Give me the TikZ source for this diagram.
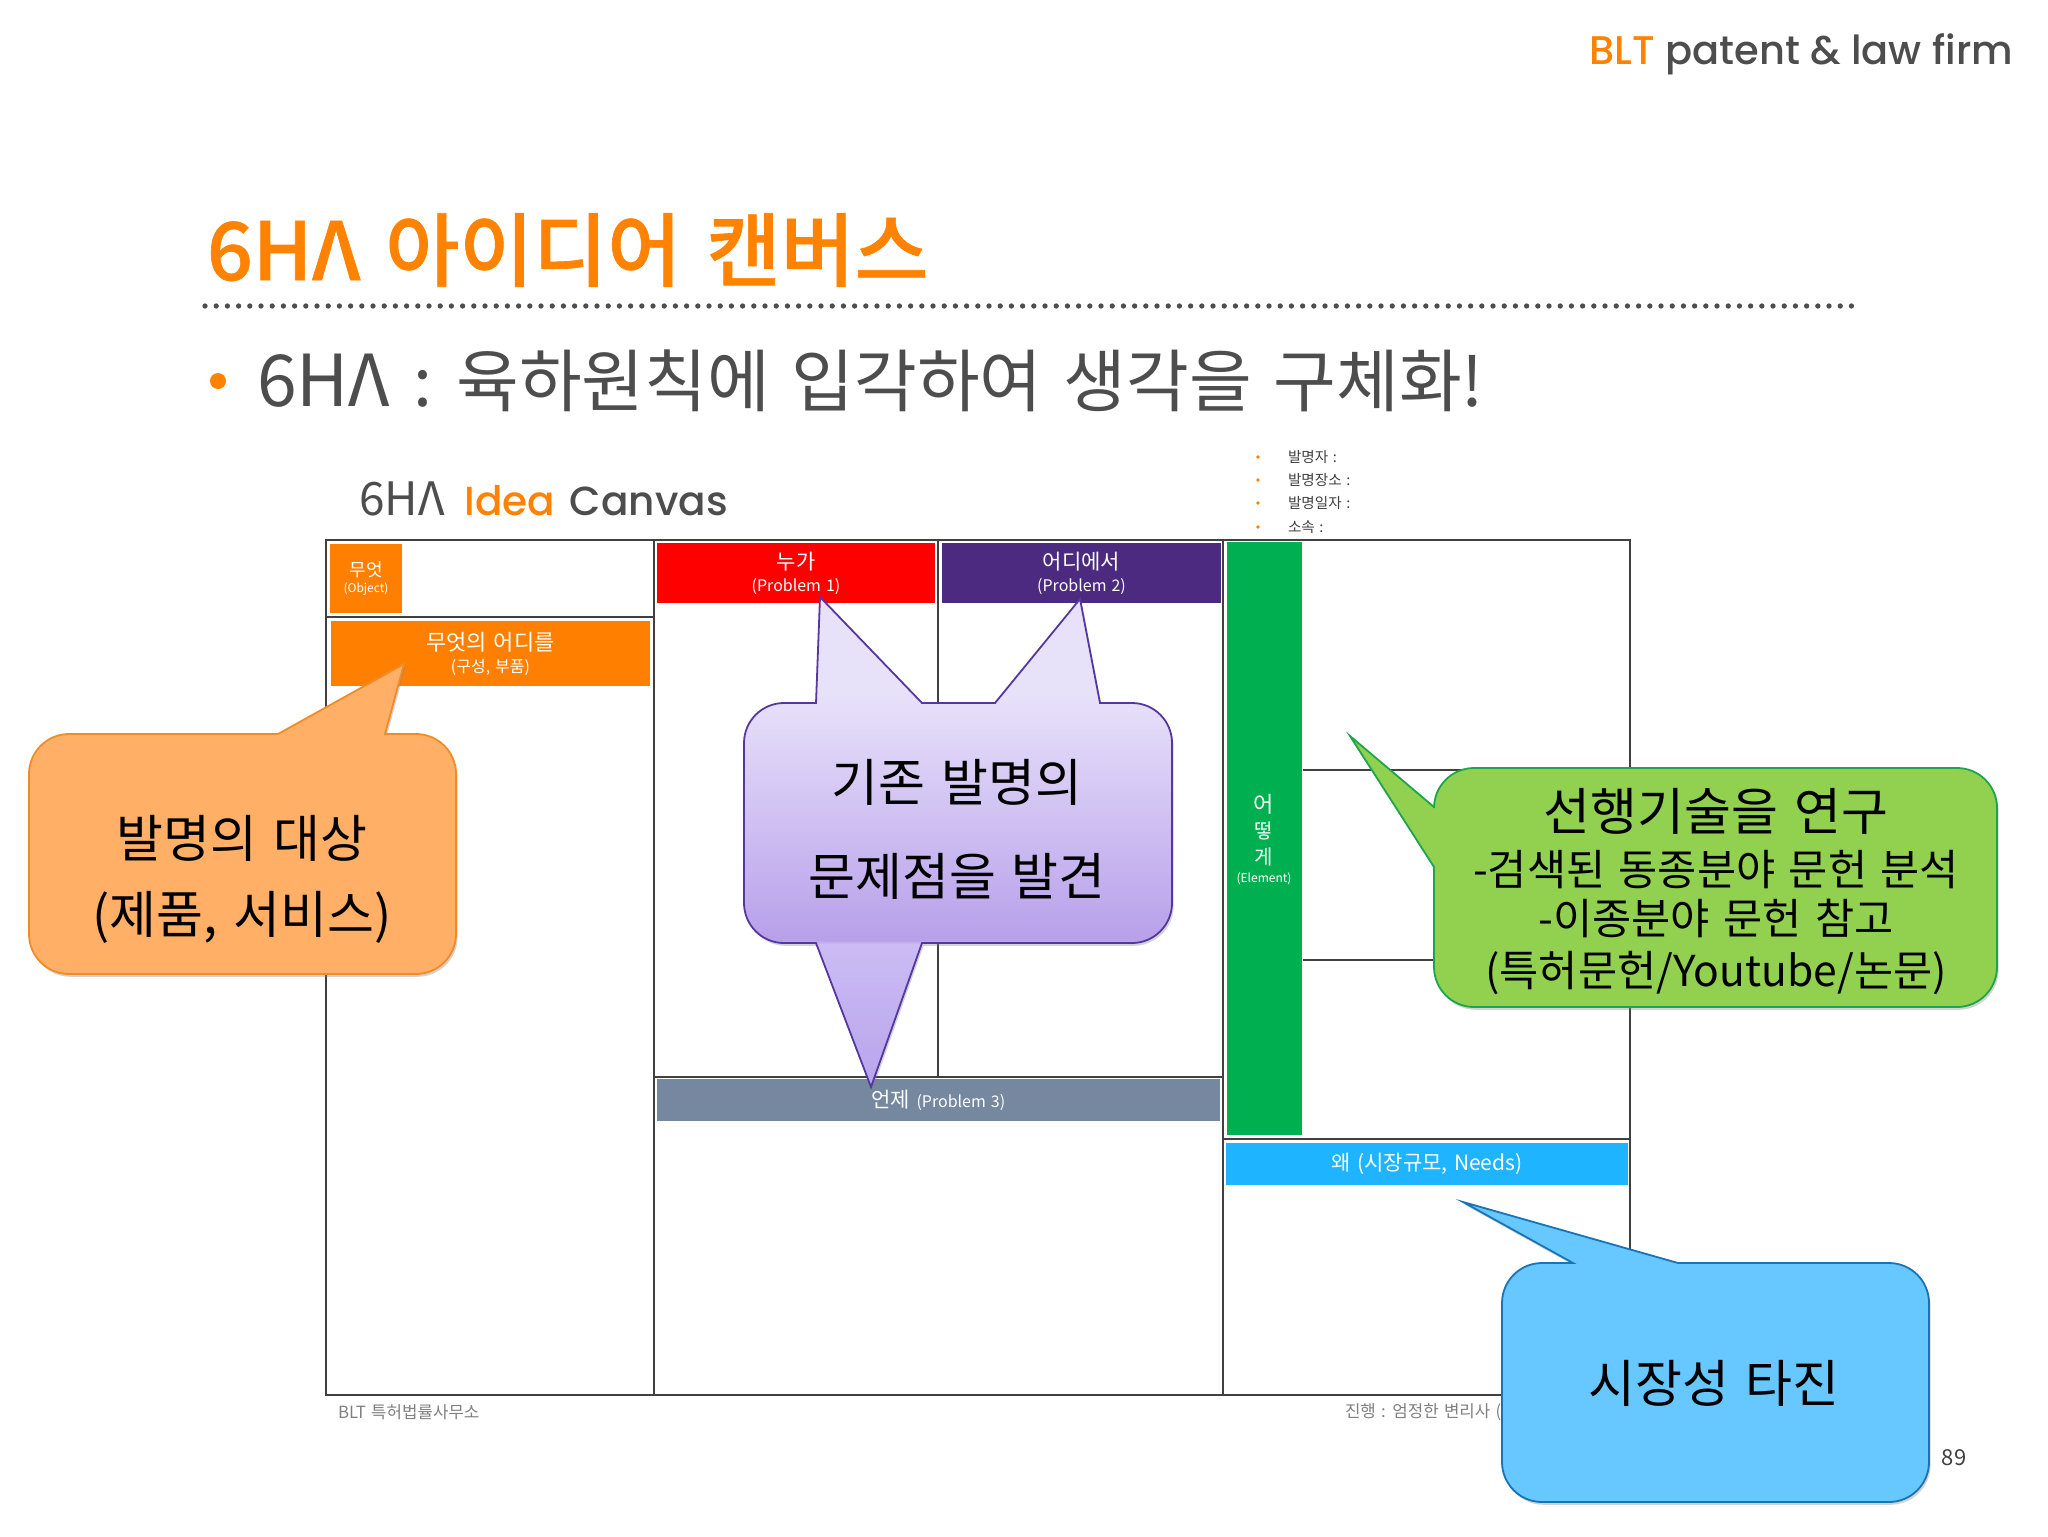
\documentclass[tikz,border=0pt]{standalone}
\usepackage{fontspec}
\setmainfont[WordSpace=1.4]{Noto Sans CJK KR}
\newfontfamily\latfont{Poppins Medium}
\newfontfamily\medfont[WordSpace=1.4,FakeBold=.8]{Noto Sans CJK KR Medium}
\usepackage{tikz}
\usetikzlibrary{shadows}
\definecolor{bltorange}{RGB}{255,130,0}
\definecolor{inkgray}{RGB}{64,64,64}
\definecolor{textgray}{RGB}{77,77,77}
\definecolor{cellorange}{RGB}{255,128,0}
\definecolor{cellpurple}{RGB}{75,42,127}
\definecolor{cellslate}{RGB}{118,135,160}
\definecolor{cellgreen}{RGB}{0,176,80}
\definecolor{cellblue}{RGB}{31,180,255}
\definecolor{peachfill}{RGB}{255,176,102}
\definecolor{peachline}{RGB}{240,140,40}
\definecolor{lilacline}{RGB}{85,55,160}
\definecolor{lilactop}{RGB}{232,225,250}
\definecolor{lilacmid}{RGB}{184,160,234}
\definecolor{lilactail}{RGB}{184,164,236}
\definecolor{lilacneck}{RGB}{203,188,244}
\definecolor{leaffill}{RGB}{146,208,80}
\definecolor{leafline}{RGB}{30,165,75}
\definecolor{skyfill}{RGB}{102,200,255}
\definecolor{skyline}{RGB}{25,115,180}
\pgfdeclareverticalshading{lilacshade}{100bp}{color(0bp)=(lilactail); color(25bp)=(lilactail); color(39.6bp)=(lilacneck); color(40bp)=(lilacmid); color(65bp)=(lilactop); color(100bp)=(lilactop)}
\newcommand{\fs}[1]{\fontsize{#1}{1.2\dimexpr#1pt\relax}\selectfont}

\begin{document}
\begin{tikzpicture}[x=.5pt,y=-.5pt,
    every node/.style={inner sep=0pt,outer sep=0pt},
    cell/.style={minimum width=#1,text=white,align=center},
    cline/.style={draw=inkgray,line width=.6pt},
    balloon/.style={line width=.9pt,line join=miter,drop shadow={shadow xshift=.8pt,shadow yshift=-1.4pt,opacity=.35}},
    say/.style={text=black,align=center}]
    \useasboundingbox (0,0) rectangle (2048,1536);

    % heading
    \node[anchor=east,font=\latfont\fs{20},text=textgray] (firm) at (2013,54) {\textcolor{bltorange}{BLT} patent \& law firm};
    \node[anchor=west,font=\medfont\fs{40.2},text=bltorange] (title) at (207,250) {6HΛ 아이디어 캔버스};
    \draw[draw=textgray,line width=2.65pt,line cap=round,dash pattern=on 0pt off 5.6pt] (205,306) -- (1855,306);
    \fill[bltorange] (218,381) circle (4pt);
    \node[anchor=west,font=\fs{34.1},text=textgray] (sub) at (257,381) {{\fs{35.8}6HΛ}\hspace{.03em} : \hspace{.04em}육하원칙에 입각하여 생각을 구체화!};

    % canvas frame
    \node[anchor=west,font=\fs{23},text=textgray] (canvas) at (359,499) {6HΛ\hspace{.12em} \latfont\fs{20.3}\textcolor{bltorange}{Idea}\hspace{.1em} Canvas};
    \draw[cline,line width=.8pt] (326,540) rectangle (1630,1395);
    \draw[cline] (654,540) -- (654,1395)
                 (1223,540) -- (1223,1395)
                 (938,540) -- (938,1077)
                 (326,617) -- (654,617)
                 (654,1077) -- (1223,1077)
                 (1223,1139) -- (1630,1139)
                 (1303,770) -- (1630,770)
                 (1303,960) -- (1630,960);

    % canvas cells
    \node[cell=36pt,minimum height=34.5pt,fill=cellorange] (obj) at (366,578.5) {\raisebox{-3pt}{\fs{9}무엇}\\[-1pt]\fs{6}(Object)};
    \node[cell=159.5pt,minimum height=32.5pt,fill=cellorange] (part) at (490.5,653.5) {\fs{11}무엇의 어디를\\[-1pt]\fs{8}(구성, 부품)};
    \node[cell=139pt,minimum height=30pt,fill=red] (who) at (796,573) {\fs{10.5}누가\\[-1pt]\fs{8}(Problem 1)};
    \node[cell=139.5pt,minimum height=30pt,fill=cellpurple] (where) at (1081.5,573) {\fs{10.5}어디에서\\[-1pt]\fs{8}(Problem 2)};
    \node[cell=281.5pt,minimum height=21pt,fill=cellslate] (when) at (938.25,1100) {\fs{10.5}언제 \fs{8}(Problem 3)};
    \node[cell=37.5pt,minimum height=296.5pt,fill=cellgreen] (how) at (1264.5,838.5) {};
    \node[cell=37.5pt] (howtext) at (1264,839.5) {\fs{11}어\\[1pt]떻\\[1pt]게\\[-3pt]\fs{6}(Element)};
    \node[cell=201pt,minimum height=21pt,fill=cellblue] (why) at (1427,1164) {\fs{10.5}왜 (시장규모, Needs)};

    % inventor list
    \foreach \i/\yy/\txt in {1/457/발명자 :,2/480/발명장소 :,3/503/발명일자 :,4/527/소속 :}{
        \fill[bltorange] (1258,\yy) circle (.9pt);
        \node[anchor=west,font=\fs{7.3},text=inkgray] (inv_\i) at (1288,\yy) {\txt};
    }

    % footer
    \node[anchor=west,font=\fs{8.4},text=gray] (foot_l) at (338,1412) {BLT 특허법률사무소};
    \node[anchor=west,font=\fs{8.4},text=gray] (foot_r) at (1345,1412) {진행 : 엄정한 변리사 (s};
    \node[anchor=center,font=\fs{11},text=inkgray] (page) at (1954,1458) {89};

    % balloons
    \draw[balloon,draw=peachline,fill=peachfill]
        (385,734) -- (404,664) -- (278,734) [rounded corners=20pt] -- (29,734) -- (29,974) -- (456,974) -- (456,734) [sharp corners] -- cycle;
    \node[say,font=\fs{25.5}] (obj_say) at (242,838) {발명의 대상};
    \node[say,font=\fs{25.5}] (obj_say2) at (242,917) {(제품, 서비스)};

    \draw[balloon,draw=lilacline,shade,shading=lilacshade]
        (816,703) -- (820,597) -- (922,703) -- (995,703) -- (1080,599) -- (1100,703) [rounded corners=20pt] -- (1172,703) -- (1172,943) [sharp corners] -- (922,943) -- (871,1087) -- (816,943) [rounded corners=20pt] -- (744,943) -- (744,703) [sharp corners] -- cycle;
    \node[say,font=\fs{25.5}] (prob_say) at (957,782) {기존 발명의};
    \node[say,font=\fs{25.5}] (prob_say2) at (957,876) {문제점을 발견};

    \draw[balloon,draw=leafline,fill=leaffill]
        (1434,807) -- (1350,736) -- (1434,867) [rounded corners=20pt] -- (1434,1007) -- (1997,1007) -- (1997,768) -- (1434,768) [sharp corners] -- cycle;
    \node[say,font=\fs{25.5}] (art_say) at (1716,811) {선행기술을 연구};
    \node[say,font=\fs{21.3}] (art_say2) at (1716,870) {-검색된 동종분야 문헌 분석};
    \node[say,font=\fs{21.3}] (art_say3) at (1716,918) {-이종분야 문헌 참고};
    \node[say,font=\fs{21.3}] (art_say4) at (1716,973) {(특허문헌/Youtube/논문)};

    \draw[balloon,draw=skyline,fill=skyfill]
        (1573,1263) -- (1463,1202) -- (1678,1263) [rounded corners=20pt] -- (1929,1263) -- (1929,1502) -- (1502,1502) -- (1502,1263) [sharp corners] -- cycle;
    \node[say,font=\fs{25.5}] (mkt_say) at (1714,1383) {시장성 타진};
\end{tikzpicture}
\end{document}
